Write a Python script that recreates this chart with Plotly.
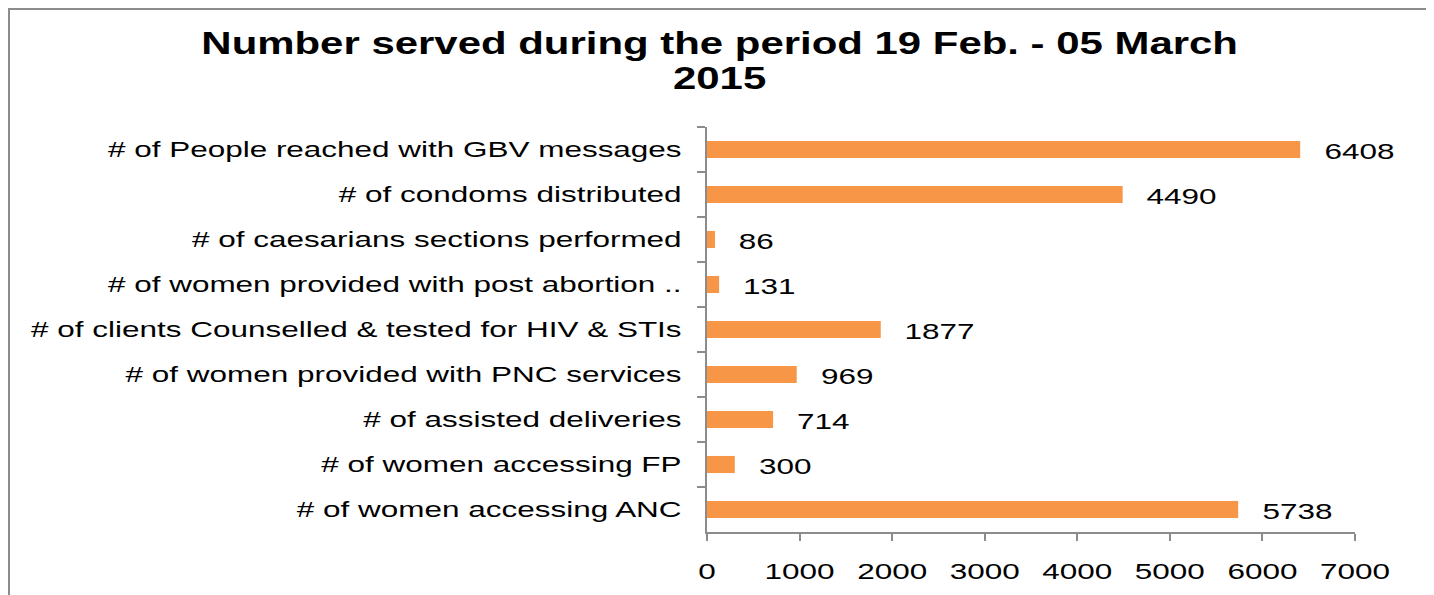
import plotly.graph_objects as go

categories = [
    "# of People reached with GBV messages",
    "# of condoms distributed",
    "# of caesarians sections performed",
    "# of women provided with post abortion ..",
    "# of clients Counselled & tested for HIV & STIs",
    "# of women provided with PNC services",
    "# of assisted deliveries",
    "# of women accessing FP",
    "# of women accessing ANC",
]
values = [6408, 4490, 86, 131, 1877, 969, 714, 300, 5738]
x_ticks = [0, 1000, 2000, 3000, 4000, 5000, 6000, 7000]
title_lines = ["Number served during the period 19 Feb. - 05 March", "2015"]

FONT = "Arial, Liberation Sans, sans-serif"
BAR = "#F79646"
AX = "#8c8c8c"
LABEL_SIZE = 22
STRETCH = 1.43          # reference text is horizontally stretched
TITLE_STRETCH = 1.31

W, H = 1434, 595
L, R, T, B = 699, 87, 119, 71
pw, ph = W - L - R, H - T - B


def px_x(x):
    return (x - L) / pw


def px_y(y):
    return (H - B - y) / ph


fig = go.Figure()
fig.add_trace(go.Bar(
    y=categories, x=values, orientation="h",
    marker=dict(color=BAR, line=dict(width=0)),
    hoverinfo="x+y",
))

for c, v in zip(categories, values):
    w = len(str(v)) * 0.556 * LABEL_SIZE           # natural text width (digits)
    fig.add_annotation(x=v, y=c, text=str(v), showarrow=False,
                       xanchor="left", yanchor="middle",
                       xshift=22 + (STRETCH - 1) * w / 2, yshift=-1.5,
                       font=dict(family=FONT, size=LABEL_SIZE, color="#000"))

for txt, yc in zip(title_lines, [34.5, 69.5]):
    fig.add_annotation(xref="paper", yref="paper", x=px_x(711), y=px_y(yc),
                       text=txt, showarrow=False, xanchor="center", yanchor="middle",
                       font=dict(family=FONT, size=32, color="#000", weight="bold"))

# outer chart border
fig.add_shape(type="rect", xref="paper", yref="paper",
              x0=px_x(1), x1=px_x(1419), y0=-0.3, y1=px_y(1),
              line=dict(color=AX, width=2), fillcolor="rgba(0,0,0,0)", layer="below")

fig.update_layout(
    width=W, height=H,
    margin=dict(l=L, r=R, t=T, b=B, autoexpand=False),
    paper_bgcolor="white", plot_bgcolor="white",
    bargap=0.62,
    showlegend=False,
    font=dict(family=FONT, color="#000"),
)
fig.update_xaxes(range=[0, 7000], tickvals=x_ticks, ticktext=[str(t) for t in x_ticks],
                 showgrid=False, zeroline=False, showline=True, linecolor=AX, linewidth=2,
                 ticks="outside", ticklen=7, tickwidth=2, tickcolor=AX,
                 tickfont=dict(family=FONT, size=LABEL_SIZE, color="#000"), ticklabelstandoff=12)
fig.update_yaxes(autorange="reversed", showgrid=False, showline=True, linecolor=AX, linewidth=2,
                 ticks="outside", ticklen=8, tickwidth=2, tickcolor=AX, tickson="boundaries",
                 tickfont=dict(family=FONT, size=LABEL_SIZE, color="#000"), ticklabelstandoff=19)

post = """
var gd = document.getElementById('{plot_id}');
function stretch(t, k){
  t.removeAttribute('textLength');
  var w = t.getComputedTextLength();
  t.setAttribute('lengthAdjust', 'spacingAndGlyphs');
  t.setAttribute('textLength', (w * k).toFixed(2));
}
function widen(){
  gd.querySelectorAll('.ytick text, .xtick text').forEach(function(t){ stretch(t, %s); });
  gd.querySelectorAll('.annotation-text').forEach(function(t){
    stretch(t, parseFloat(t.style.fontSize) > 30 ? %s : %s);
  });
}
widen();
gd.on('plotly_afterplot', widen);
""" % (STRETCH, TITLE_STRETCH, STRETCH)

fig.write_html("out.html", post_script=post)
